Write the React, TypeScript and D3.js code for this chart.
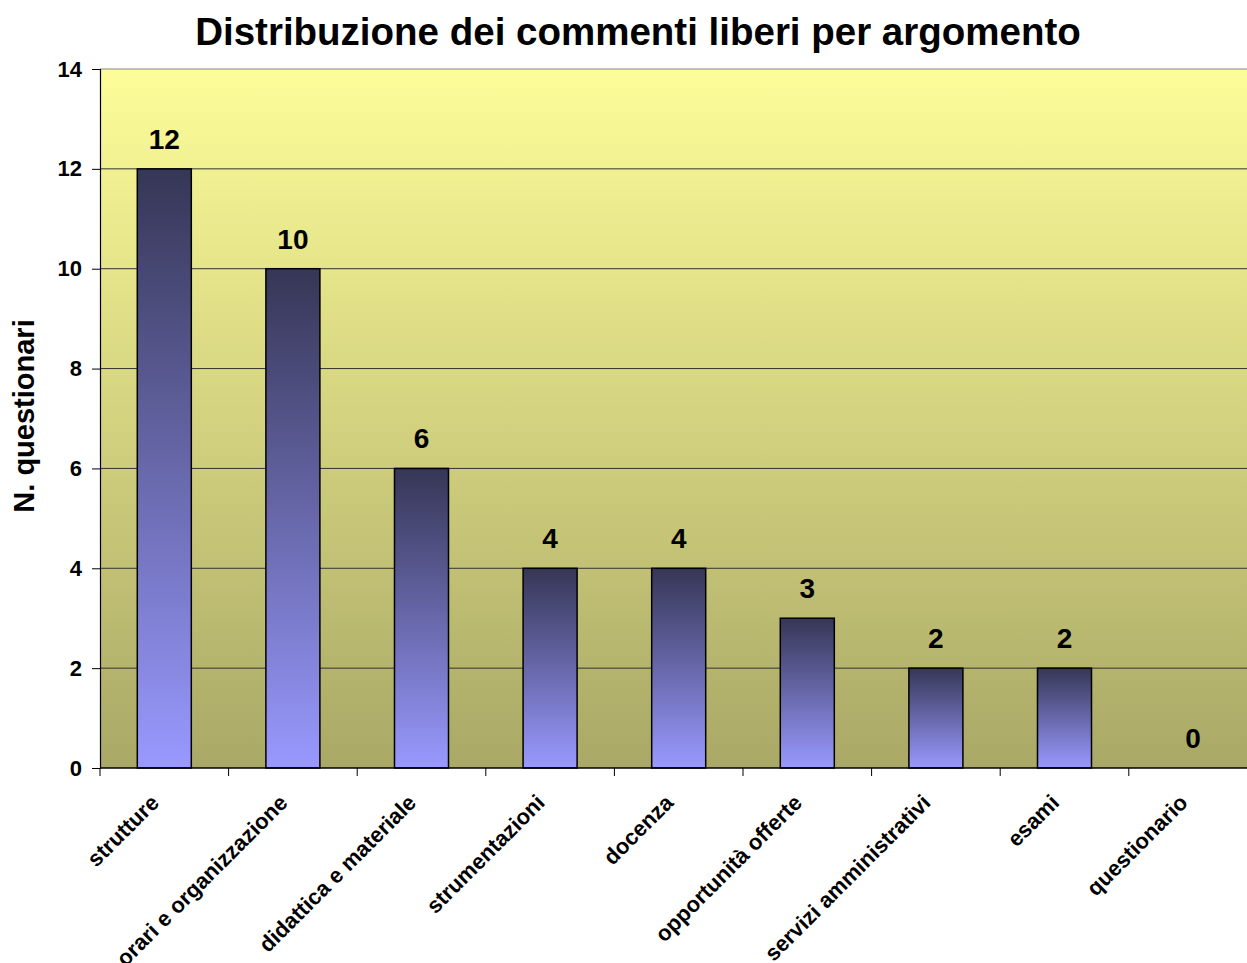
import React, { useEffect, useRef } from "react";
import * as d3 from "d3";

const categories = [
  "strutture",
  "orari e organizzazione",
  "didattica e materiale",
  "strumentazioni",
  "docenza",
  "opportunità offerte",
  "servizi amministrativi",
  "esami",
  "questionario",
];
const values = [12, 10, 6, 4, 4, 3, 2, 2, 0];
const yTicks = [0, 2, 4, 6, 8, 10, 12, 14];

const App = () => {
  const svgRef = useRef<SVGSVGElement>(null);

  useEffect(() => {
    const svg = d3.select(svgRef.current);
    svg.selectAll("*").remove();

    const width = 1247, height = 963;
    const left = 100, top = 69, bottom = 768;
    const right = left + 9 * 128.6;
    const font = "'Liberation Sans', Arial, sans-serif";

    const defs = svg.append("defs");
    const bg = defs.append("linearGradient").attr("id", "bg").attr("x1", 0).attr("y1", 0).attr("x2", 0).attr("y2", 1);
    bg.append("stop").attr("offset", "0%").attr("stop-color", "#fdfd99");
    bg.append("stop").attr("offset", "100%").attr("stop-color", "#a9a866");
    const bar = defs.append("linearGradient").attr("id", "bar").attr("x1", 0).attr("y1", 0).attr("x2", 0).attr("y2", 1);
    bar.append("stop").attr("offset", "0%").attr("stop-color", "#363656");
    bar.append("stop").attr("offset", "100%").attr("stop-color", "#9999ff");

    const x = d3.scaleBand().domain(categories).range([left, right]).padding(0);
    const y = d3.scaleLinear().domain([0, 14]).range([bottom, top]);

    svg.append("rect")
      .attr("x", left).attr("y", top)
      .attr("width", right - left).attr("height", bottom - top)
      .attr("fill", "url(#bg)");

    // gridlines
    svg.append("g").selectAll("line")
      .data(yTicks.filter(t => t > 0))
      .enter().append("line")
      .attr("x1", left).attr("x2", right)
      .attr("y1", d => y(d)).attr("y2", d => y(d))
      .attr("stroke", d => d === 14 ? "#888" : "#333")
      .attr("stroke-width", 1);

    const bw = x.bandwidth() * 0.42;
    svg.append("g").selectAll("rect")
      .data(values)
      .enter().append("rect")
      .attr("x", (d, i) => x(categories[i])! + (x.bandwidth() - bw) / 2)
      .attr("y", d => y(d))
      .attr("width", bw)
      .attr("height", d => bottom - y(d))
      .attr("fill", "url(#bar)")
      .attr("stroke", d => d > 0 ? "#000" : "none")
      .attr("stroke-width", 1.5);

    svg.append("g").selectAll("text")
      .data(values)
      .enter().append("text")
      .attr("x", (d, i) => x(categories[i])! + x.bandwidth() / 2)
      .attr("y", d => y(d) - 20)
      .attr("text-anchor", "middle")
      .attr("font-family", font).attr("font-weight", "bold").attr("font-size", 28)
      .text(d => d);

    // y axis
    const yAxis = svg.append("g")
      .attr("transform", `translate(${left},0)`)
      .call(d3.axisLeft(y).tickValues(yTicks).tickSize(8).tickPadding(10));
    yAxis.select(".domain").attr("stroke", "#000").attr("stroke-width", 1.2);
    yAxis.selectAll(".tick line").attr("stroke", "#000");
    yAxis.selectAll("text")
      .attr("font-family", font).attr("font-weight", "bold").attr("font-size", 22)
      .attr("fill", "#000");

    // x axis
    const xg = svg.append("g");
    xg.append("line")
      .attr("x1", left).attr("x2", right)
      .attr("y1", bottom).attr("y2", bottom)
      .attr("stroke", "#000").attr("stroke-width", 1.5);
    xg.selectAll("line.tk")
      .data(categories)
      .enter().append("line")
      .attr("class", "tk")
      .attr("x1", d => x(d)!).attr("x2", d => x(d)!)
      .attr("y1", bottom).attr("y2", bottom + 8)
      .attr("stroke", "#000");
    xg.selectAll("text")
      .data(categories)
      .enter().append("text")
      .attr("transform", d => `translate(${x(d)! + x.bandwidth() / 2 - 4},${bottom + 36}) rotate(-45)`)
      .attr("text-anchor", "end")
      .attr("font-family", font).attr("font-weight", "bold").attr("font-size", 22)
      .text(d => d);

    svg.append("text")
      .attr("x", 638).attr("y", 45)
      .attr("text-anchor", "middle")
      .attr("font-family", font).attr("font-weight", "bold").attr("font-size", 38.5)
      .text("Distribuzione dei commenti liberi per argomento");

    svg.append("text")
      .attr("transform", `translate(34,416) rotate(-90)`)
      .attr("text-anchor", "middle")
      .attr("font-family", font).attr("font-weight", "bold").attr("font-size", 29)
      .text("N. questionari");

    svg.attr("width", width).attr("height", height);
  }, []);

  return (
    <svg ref={svgRef} width={1247} height={963}
      style={{ position: "absolute", left: 0, top: 0, background: "#fff" }} />
  );
};

export default App;
